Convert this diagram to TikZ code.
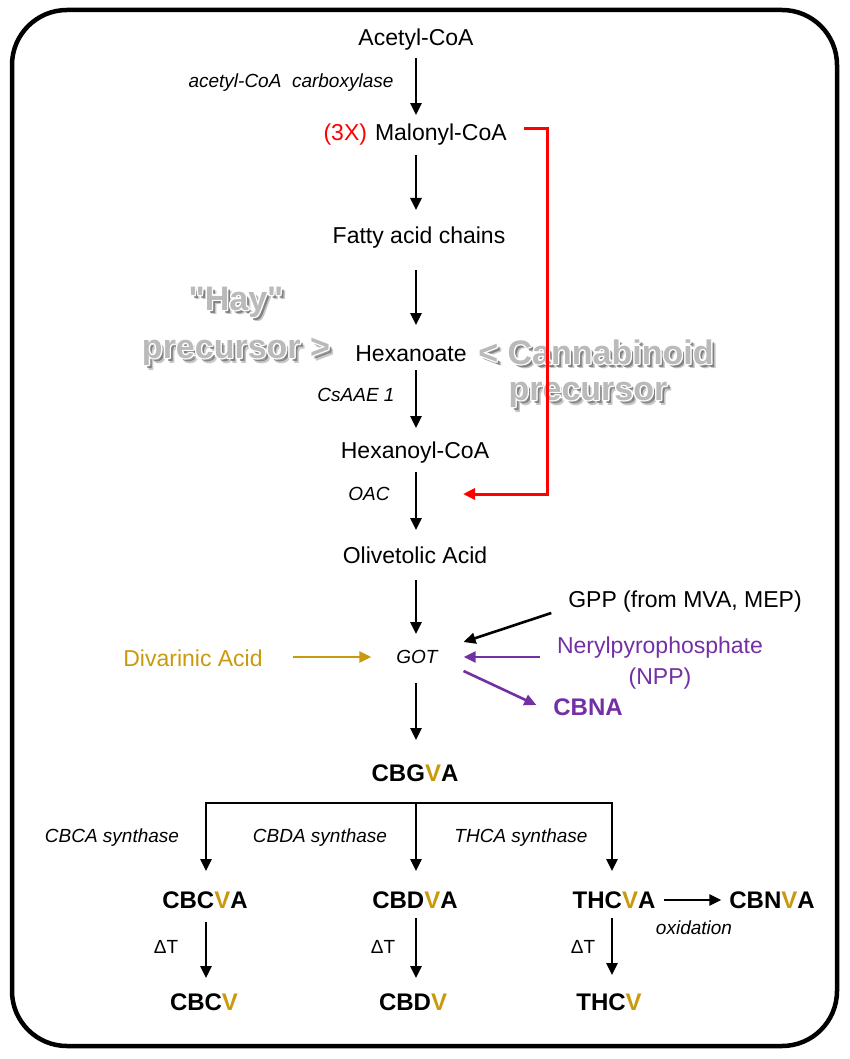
\documentclass[tikz,border=0pt]{standalone}
\usepackage{fontspec}
\setmainfont{Liberation Sans}
\newfontfamily\grayfont{Liberation Sans}
\usetikzlibrary{arrows.meta,calc}
\definecolor{gold}{HTML}{C9990E}
\definecolor{purp}{HTML}{7330A5}
\definecolor{hayfill}{HTML}{BABABA}
\definecolor{hayshadow}{HTML}{4A4A4A}
\newcommand\Vg{\textcolor{gold}{V}}
\newcommand\graytext[3]{%
  \node[gry, text=hayshadow, opacity=.3] (#1s1) at ($(#2)+(4.5,4.5)$) {#3};
  \node[gry, text=hayshadow, opacity=.55] (#1s2) at ($(#2)+(3,3)$) {#3};
  \foreach \dx/\dy [count=\k] in {1.3/0,-1.3/0,0/1.3,0/-1.3,1/1,-1/1,1/-1,-1/-1}
    \node[gry, text=white] (#1w\k) at ($(#2)+(\dx,\dy)$) {#3};
  \node[gry, text=hayfill] (#1) at (#2) {#3};
}
\begin{document}
\begin{tikzpicture}[x=1pt,y=-1pt,
  every node/.style={inner sep=0pt, outer sep=0pt},
  lbl/.style={font=\fontsize{23}{27}\selectfont},
  enz/.style={font=\fontsize{19}{22}\selectfont\itshape},
  bld/.style={font=\fontsize{24}{28}\selectfont\bfseries},
  dlt/.style={font=\fontsize{19}{22}\selectfont},
  gry/.style={font=\grayfont\fontsize{34}{36}\selectfont\bfseries},
  arr/.style={line width=2.6pt, -{Triangle[length=12pt,width=11pt]}},
]
\useasboundingbox (0,0) rectangle (850,1059);
\draw[line width=4.5pt, rounded corners=55pt] (12,10) rectangle (837,1046);

% gray annotations
\graytext{hay}{236,302}{"Hay"}
\graytext{prec1}{236,352}{precursor >}
\graytext{cann}{596,352}{< Cannabinoid}
\graytext{prec2}{588,395}{precursor}

% main column
\coordinate (col) at (416,0);
\node[lbl] (acetyl) at (416,40) {Acetyl-CoA};
\node[enz] (acc) at (291,83) {acetyl-CoA\ \ carboxylase};
\node[lbl, anchor=base west] (malonyl) at (375,141) {Malonyl-CoA};
\node[lbl, text=red, anchor=base east] (threex) at (367,141) {(3X)};
\node[lbl] (fatty) at (419,238) {Fatty acid chains};
\node[lbl] (hexanoate) at (411,354) {Hexanoate};
\node[enz] (csaae) at (356,395) {CsAAE 1};
\node[lbl] (hexanoyl) at (415,453) {Hexanoyl-CoA};
\node[enz] (oac) at (369,494) {OAC};
\node[lbl] (olivetolic) at (415,555) {Olivetolic Acid};
\node[enz] (got) at (417,657) {GOT};
\node[lbl] (gpp) at (685,602) {GPP (from MVA, MEP)};
\node[lbl, text=purp, align=center, font=\fontsize{23}{31}\selectfont] (npp) at (660,663) {Nerylpyrophosphate\\(NPP)};
\node[bld, text=purp] (cbna) at (588,707) {CBNA};
\node[lbl, text=gold] (divarinic) at (193,658) {Divarinic Acid};
\node[bld] (cbgva) at (415,773) {CBG\Vg A};

\draw[arr] ($(acetyl.center -| col)+(0,18)$) -- ($(malonyl.center -| col)+(0,-20)$);
\draw[arr] ($(malonyl.center -| col)+(0,20)$) -- ($(fatty.center -| col)+(0,-28)$);
\draw[arr] ($(fatty.center -| col)+(0,32)$) -- ($(hexanoate.center -| col)+(0,-29)$);
\draw[arr] ($(hexanoate.center -| col)+(0,16)$) -- ($(hexanoyl.center -| col)+(0,-25)$);
\draw[arr] ($(hexanoyl.center -| col)+(0,19)$) -- ($(olivetolic.center -| col)+(0,-25)$);
\draw[arr] ($(olivetolic.center -| col)+(0,25)$) -- ($(got.center -| col)+(0,-23)$);
\draw[arr] ($(got.center -| col)+(0,26)$) -- ($(cbgva.center -| col)+(0,-33)$);

% red feedback
\coordinate (rc) at (547,0);
\draw[red, line width=3pt, -{Triangle[length=12pt,width=11pt]}]
  ($(malonyl.east)+(17,-7)$) -| ($(rc |- oac.center)$) -- ($(oac.center -| hexanoyl.center)+(48,0)$);

% GOT inputs
\draw[arr] ($(gpp.west)+(-17,11)$) -- ($(got.east)+(26,-15)$);
\draw[arr, purp] ($(npp.west |- got.center)+(-17,0)$) -- ($(got.east)+(26,0)$);
\draw[arr, purp] ($(got.east)+(26,14)$) -- ($(cbna.west)+(-17,-2)$);
\draw[arr, gold] ($(divarinic.east |- got.center)+(30,0)$) -- ($(got.west)+(-25,0)$);

% branching
\coordinate (bl) at (206,803);
\coordinate (bm) at (416,803);
\coordinate (br) at (612,803);
\draw[line width=2.6pt, line cap=rect] (bl) -- (br);
\node[enz] (cbcas) at (112,838) {CBCA synthase};
\node[enz] (cbdas) at (320,838) {CBDA synthase};
\node[enz] (thcas) at (521,838) {THCA synthase};
\node[bld] (cbcva) at (205,900) {CBC\Vg A};
\node[bld] (cbdva) at (415,900) {CBD\Vg A};
\node[bld] (thcva) at (614,900) {THC\Vg A};
\node[bld] (cbnva) at (772,900) {CBN\Vg A};
\node[enz] (oxid) at (694,928) {oxidation};
\draw[arr] (bl) -- ($(bl |- cbcva.center)+(0,-29)$);
\draw[arr] (bm) -- ($(bm |- cbdva.center)+(0,-29)$);
\draw[arr] (br) -- ($(br |- thcva.center)+(0,-29)$);
\draw[arr] ($(thcva.east)+(9,0)$) -- ($(cbnva.west)+(-8,0)$);

\node[dlt] (dt1) at (166,947) {ΔT};
\node[dlt] (dt2) at (383,947) {ΔT};
\node[dlt] (dt3) at (583,947) {ΔT};
\node[bld] (cbcv) at (204,1002) {CBC\Vg};
\node[bld] (cbdv) at (413,1002) {CBD\Vg};
\node[bld] (thcv) at (609,1002) {THC\Vg};
\draw[arr] ($(cbcva.center -| bl)+(0,22)$) -- ($(cbcv.center -| bl)+(0,-24)$);
\draw[arr] ($(cbdva.center -| bm)+(0,18)$) -- ($(cbdv.center -| bm)+(0,-24)$);
\draw[arr] ($(thcva.center -| br)+(0,18)$) -- ($(thcv.center -| br)+(0,-27)$);
\end{tikzpicture}
\end{document}
